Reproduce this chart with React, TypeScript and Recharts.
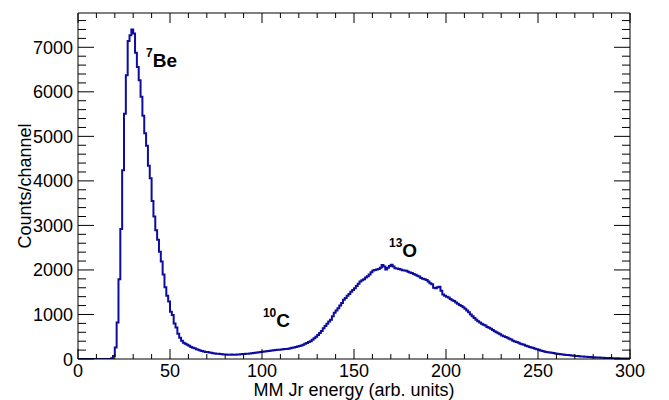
import React from 'react';
import { ComposedChart, Line, XAxis, YAxis, ReferenceDot } from 'recharts';

// Counts per channel, bins of width 1 from 0 to 300 (bin i covers [i, i+1))
const counts: number[] = [
  // 0-19
  0, 0, 0, 0, 0, 0, 0, 0, 0, 0, 0, 0, 0, 0, 0, 0, 0, 0, 15, 70,
  // 20-39
  260, 820, 1790, 2920, 4240, 5510, 6370, 7140, 7270, 7400, 7310, 6880, 6560, 6260, 5890, 5460, 5070, 4790, 4340, 4060,
  // 40-59
  3550, 3200, 2890, 2680, 2410, 2190, 1900, 1610, 1420, 1290, 1060, 990, 800, 710, 565, 480, 410, 365, 345, 318,
  // 60-79
  300, 272, 255, 240, 218, 205, 192, 178, 170, 160, 158, 146, 140, 131, 126, 119, 116, 112, 108, 103,
  // 80-99
  101, 98, 96, 99, 94, 97, 100, 103, 106, 110, 113, 117, 120, 126, 130, 135, 141, 148, 152, 158,
  // 100-119
  165, 170, 176, 180, 186, 192, 196, 200, 206, 210, 214, 218, 222, 225, 232, 240, 250, 258, 268, 278,
  // 120-139
  290, 305, 322, 340, 360, 380, 400, 430, 465, 500, 540, 585, 630, 690, 740, 790, 840, 880, 960, 1040,
  // 140-159
  1090, 1140, 1200, 1260, 1330, 1370, 1420, 1460, 1510, 1550, 1590, 1640, 1690, 1740, 1770, 1790, 1830, 1860, 1900, 1950,
  // 160-179
  1990, 2000, 2010, 2020, 2050, 2110, 2080, 2010, 2050, 2090, 2115, 2080, 2040, 2030, 2020, 2010, 1995, 1990, 1980, 1960,
  // 180-199
  1945, 1930, 1910, 1890, 1870, 1850, 1820, 1800, 1790, 1775, 1740, 1700, 1680, 1600, 1590, 1610, 1620, 1530, 1450, 1420,
  // 200-219
  1400, 1380, 1350, 1320, 1300, 1270, 1240, 1215, 1190, 1160, 1130, 1090, 1050, 1000, 960, 920, 880, 850, 820, 790,
  // 220-239
  770, 750, 720, 700, 680, 650, 625, 600, 580, 555, 530, 510, 495, 475, 455, 440, 410, 395, 380, 365,
  // 240-259
  345, 330, 318, 300, 285, 270, 258, 246, 232, 220, 205, 192, 180, 170, 160, 152, 145, 138, 132, 125,
  // 260-279
  118, 112, 106, 100, 96, 92, 88, 83, 78, 74, 70, 66, 62, 58, 55, 52, 49, 46, 43, 40,
  // 280-299
  37, 35, 33, 31, 29, 27, 25, 23, 21, 20, 19, 18, 16, 15, 14, 13, 12, 11, 10, 9,
];

const xTicks = [0, 10, 20, 30, 40, 50, 60, 70, 80, 90, 100, 110, 120, 130, 140, 150, 160, 170, 180, 190, 200, 210, 220, 230, 240, 250, 260, 270, 280, 290, 300];
const xLabels = [0, 50, 100, 150, 200, 250, 300];
const yTicks = [0, 200, 400, 600, 800, 1000, 1200, 1400, 1600, 1800, 2000, 2200, 2400, 2600, 2800, 3000, 3200, 3400, 3600, 3800, 4000, 4200, 4400, 4600, 4800, 5000, 5200, 5400, 5600, 5800, 6000, 6200, 6400, 6600, 6800, 7000, 7200, 7400, 7600];
const yLabels = [0, 1000, 2000, 3000, 4000, 5000, 6000, 7000];
const xDomain = [0, 300];
const yDomain = [0, 7770];

const xTitle = 'MM Jr energy (arb. units)';
const yTitle = 'Counts/channel';

const annotations = [
  { x: 37, y: 6560, sup: '7', main: 'Be' },
  { x: 100.5, y: 725, sup: '10', main: 'C' },
  { x: 169, y: 2297, sup: '13', main: 'O' },
];

const data = counts.map((c, i) => ({ x: i, y: c })).concat([{ x: 300, y: counts[counts.length - 1] }]);

const FONT = 'Liberation Sans, Arial, Helvetica, sans-serif';
const LINE_COLOR = '#0c0c9e';

const BottomTick = (props: any) => {
  const { x, y, payload } = props;
  const major = xLabels.includes(payload.value);
  return (
    <g>
      <line x1={x} x2={x} y1={y} y2={y - (major ? 10 : 5)} stroke="#000" strokeWidth={1} />
      {major && (
        <text x={x} y={y + 18} textAnchor="middle" fontSize={18} fontFamily={FONT} fill="#000">
          {payload.value}
        </text>
      )}
    </g>
  );
};

const TopTick = (props: any) => {
  const { x, y, payload } = props;
  const major = xLabels.includes(payload.value);
  return <line x1={x} x2={x} y1={y} y2={y + (major ? 10 : 5)} stroke="#000" strokeWidth={1} />;
};

const LeftTick = (props: any) => {
  const { x, y, payload } = props;
  const major = yLabels.includes(payload.value);
  return (
    <g>
      <line x1={x} x2={x + (major ? 16 : 8)} y1={y} y2={y} stroke="#000" strokeWidth={1} />
      {major && (
        <text x={x - 5} y={y + 6.5} textAnchor="end" fontSize={18} fontFamily={FONT} fill="#000">
          {payload.value}
        </text>
      )}
    </g>
  );
};

const RightTick = (props: any) => {
  const { x, y, payload } = props;
  const major = yLabels.includes(payload.value);
  return <line x1={x} x2={x - (major ? 16 : 8)} y1={y} y2={y} stroke="#000" strokeWidth={1} />;
};

const XTitle = (props: any) => {
  const vb = props.viewBox || {};
  return (
    <text x={vb.x + vb.width / 2} y={vb.y + 37} textAnchor="middle" fontSize={18} fontFamily={FONT} fill="#000">
      {xTitle}
    </text>
  );
};

const YTitle = (props: any) => {
  const vb = props.viewBox || {};
  const cx = vb.x + 30.5;
  const cy = vb.y + vb.height / 2;
  return (
    <text x={cx} y={cy} transform={`rotate(-90, ${cx}, ${cy})`} textAnchor="middle" fontSize={18} fontFamily={FONT} fill="#000">
      {yTitle}
    </text>
  );
};

const makeAnnotationShape = (sup: string, main: string) => (props: any) => {
  const { cx, cy } = props;
  return (
    <text x={cx} y={cy} fontFamily={FONT} fontWeight="bold" fill="#000">
      <tspan fontSize={12} dy={-10}>{sup}</tspan>
      <tspan fontSize={19} dy={10}>{main}</tspan>
    </text>
  );
};

export default function App() {
  return (
    <div style={{ position: 'absolute', left: 0, top: 0, width: 669, height: 400, background: '#fff' }}>
      <ComposedChart width={669} height={400} data={data} margin={{ top: 12, right: 38, bottom: 0, left: 0 }}>
        <XAxis
          xAxisId="bottom"
          dataKey="x"
          type="number"
          domain={xDomain}
          ticks={xTicks}
          interval={0}
          allowDataOverflow
          tickSize={0}
          tickMargin={0}
          tickLine={false}
          tick={<BottomTick />}
          axisLine={{ stroke: '#000', strokeWidth: 1 }}
          height={41}
          label={<XTitle />}
        />
        <XAxis
          xAxisId="top"
          orientation="top"
          dataKey="x"
          type="number"
          domain={xDomain}
          ticks={xTicks}
          interval={0}
          allowDataOverflow
          tickSize={0}
          tickMargin={0}
          tickLine={false}
          tick={<TopTick />}
          axisLine={{ stroke: '#000', strokeWidth: 1 }}
          height={1}
        />
        <YAxis
          yAxisId="left"
          type="number"
          domain={yDomain}
          ticks={yTicks}
          interval={0}
          allowDataOverflow
          tickSize={0}
          tickMargin={0}
          tickLine={false}
          tick={<LeftTick />}
          axisLine={{ stroke: '#000', strokeWidth: 1 }}
          width={78}
          label={<YTitle />}
        />
        <YAxis
          yAxisId="right"
          orientation="right"
          type="number"
          domain={yDomain}
          ticks={yTicks}
          interval={0}
          allowDataOverflow
          tickSize={0}
          tickMargin={0}
          tickLine={false}
          tick={<RightTick />}
          axisLine={{ stroke: '#000', strokeWidth: 1 }}
          width={1}
        />
        <Line
          xAxisId="bottom"
          yAxisId="left"
          dataKey="y"
          type="stepAfter"
          stroke={LINE_COLOR}
          strokeWidth={2}
          dot={false}
          activeDot={false}
          isAnimationActive={false}
        />
        {annotations.map((a) => (
          <ReferenceDot
            key={a.main}
            xAxisId="bottom"
            yAxisId="left"
            x={a.x}
            y={a.y}
            r={1}
            ifOverflow="visible"
            shape={makeAnnotationShape(a.sup, a.main)}
          />
        ))}
      </ComposedChart>
    </div>
  );
}
